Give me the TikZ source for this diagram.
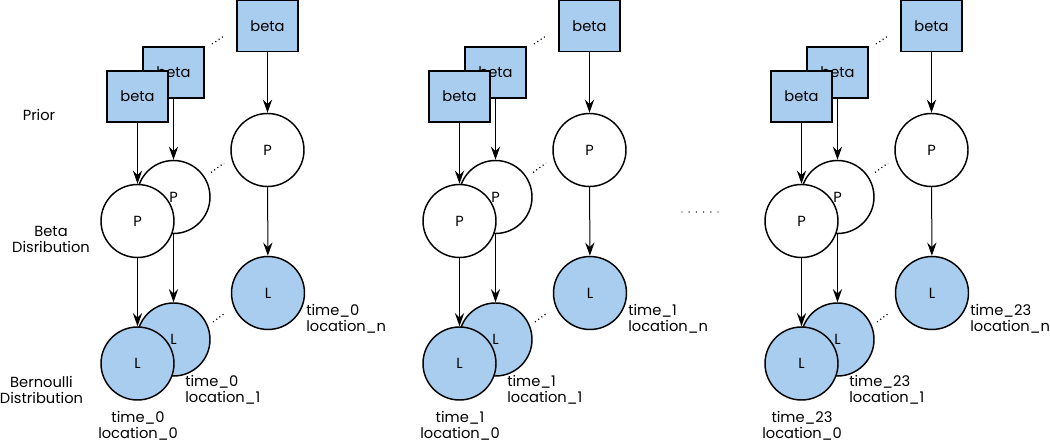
\documentclass[tikz,border=0pt]{standalone}
\usepackage{fontspec}
\setmainfont{Poppins}
\usetikzlibrary{arrows.meta,calc}
\definecolor{nodeblue}{HTML}{A9CDEF}
\tikzset{
  every node/.style={font=\fontsize{11}{12}\selectfont},
  betabox/.style={draw=black, line width=1.1pt, fill=nodeblue, minimum width=45.75pt, minimum height=38.25pt, inner sep=0pt},
  pnode/.style={draw=black, line width=1.1pt, fill=white, circle, minimum size=54.75pt, inner sep=0pt},
  lnode/.style={draw=black, line width=1.1pt, fill=nodeblue, circle, minimum size=54.75pt, inner sep=0pt},
  conn/.style={-{Stealth[length=10pt,width=7pt,inset=3.5pt]}, line width=0.75pt},
  dotline/.style={dash pattern=on 0.8pt off 2.2pt, line width=0.9pt},
  lbl/.style={inner sep=0pt},
}
\begin{document}
\begin{tikzpicture}[x=0.75pt,y=-0.75pt]
\useasboundingbox (0,0) rectangle (1050,442);
\node[lbl] (prior) at (39,115) {Prior};
\node[lbl, align=center] (betad) at (51,239) {Beta\\Disribution};
\node[lbl, align=center] (bern) at (41.5,390) {Bernoulli\\Distribution};
\coordinate (mdots) at (682,212);
\foreach \i in {0,...,5} {\fill ($(mdots)+(\i*7.2,0)$) circle (0.55pt);}
\foreach \o/\t in {0/0,322/1,664/23} {
  % back column
  \node[betabox] (bn\t) at (267.5+\o,26) {beta};
  \node[pnode] (pn\t) at (267.5+\o,150) {P};
  \node[lnode] (ln\t) at (268+\o,293) {L};
  \draw[conn] (bn\t) -- (pn\t);
  \draw[conn] (pn\t) -- (ln\t);
  % middle column
  \node[betabox] (bm\t) at (173.5+\o,72.5) {beta};
  \node[pnode] (pm\t) at (173.5+\o,197) {P};
  \node[lnode] (lm\t) at (173.5+\o,339.5) {L};
  \draw[conn] (bm\t) -- (pm\t);
  \draw[conn] (pm\t) -- (lm\t);
  % front column
  \node[betabox] (bf\t) at (137.5+\o,96.5) {beta};
  \node[pnode] (pf\t) at (137.5+\o,221) {P};
  \node[lnode] (lf\t) at (137.5+\o,363.5) {L};
  \draw[conn] (bf\t) -- (pf\t);
  \draw[conn] (pf\t) -- (lf\t);
  % dotted gaps
  \coordinate (db1\t) at (212+\o,44);
  \coordinate (db2\t) at (224+\o,36);
  \coordinate (dp1\t) at (211+\o,172.5);
  \coordinate (dp2\t) at (224+\o,163);
  \coordinate (dl1\t) at (213+\o,322);
  \coordinate (dl2\t) at (225+\o,313);
  \draw[dotline] (db1\t) -- (db2\t);
  \draw[dotline] (dp1\t) -- (dp2\t);
  \draw[dotline] (dl1\t) -- (dl2\t);
  % labels
  \node[lbl, align=center] (t0\t) at (138+\o,426) {time\_\t\\location\_0};
  \node[lbl, align=left, anchor=west] (t1\t) at (185+\o,390) {time\_\t\\location\_1};
  \node[lbl, align=left, anchor=west] (tn\t) at (306+\o,319) {time\_\t\\location\_n};
}
\end{tikzpicture}
\end{document}
